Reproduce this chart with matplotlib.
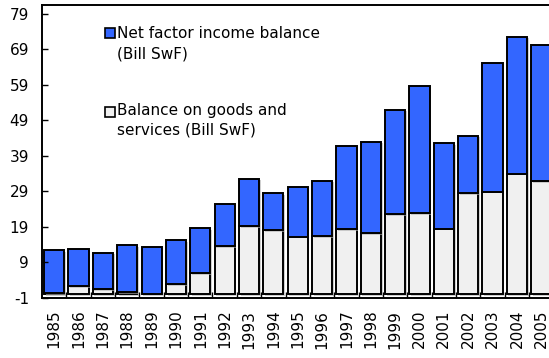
import matplotlib
matplotlib.use("Agg")
import matplotlib.pyplot as plt
import matplotlib.patheffects as pe
from matplotlib.patches import Rectangle
import numpy as np

plt.rcParams['font.family'] = ['DejaVu Sans']
plt.rcParams['axes.unicode_minus'] = False

years = [str(y) for y in range(1985, 2006)]
# Balance on goods and services (Bill SwF)
goods = [0.4, 2.3, 1.5, 0.6, 0.2, 2.8, 6.0, 13.5, 19.2, 18.0, 16.2,
         16.4, 18.3, 17.2, 22.5, 22.9, 18.5, 28.5, 28.9, 34.0, 31.9]
# Net factor income balance (Bill SwF)
net_factor = [12.0, 10.4, 10.2, 13.2, 13.1, 12.4, 12.7, 12.0, 13.4, 10.4, 13.9,
              15.6, 23.6, 25.8, 29.5, 35.9, 24.0, 16.2, 36.3, 38.6, 38.4]
yticks = list(range(-1, 80, 10))

blue = '#3366ff'
grey = '#f0f0f0'

fig = plt.figure(figsize=(5.49, 3.58), dpi=100)
ax = fig.add_axes([0.077, 0.168, 0.9306, 0.818])

x = np.arange(len(years))
shadow = [pe.SimplePatchShadow(offset=(1.2, -1.2), shadow_rgbFace='#b0b0b0', alpha=0.6), pe.Normal()]
b1 = ax.bar(x, goods, width=0.83, color=grey, edgecolor='black', linewidth=1.4)
b2 = ax.bar(x, net_factor, bottom=goods, width=0.83, color=blue, edgecolor='black', linewidth=1.4)
for r in list(b1) + list(b2):
    r.set_path_effects(shadow)

ax.set_xlim(-0.49, len(years) - 0.51)
ax.set_ylim(-1, 81.5)
ax.set_yticks(yticks)
ax.set_xticks(x)
ax.set_xticklabels(years, rotation=90, fontsize=11)
ax.set_xticks(x[:-1] + 0.5, minor=True)
ax.tick_params(axis='x', which='major', length=0, pad=8.5)
ax.tick_params(axis='x', which='minor', direction='in', length=4, width=1)
ax.tick_params(axis='y', direction='in', length=4, width=1, pad=9.5, labelsize=11)
for s in ['left', 'top', 'bottom']:
    ax.spines[s].set_linewidth(1.4)
ax.spines['right'].set_visible(False)

# legend drawn by hand to match the two-line layout
for yb, col in [(0.887, blue), (0.618, grey)]:
    ax.add_patch(Rectangle((0.1227, yb), 0.0196, 0.034, transform=ax.transAxes,
                           facecolor=col, edgecolor='black', linewidth=1.2, clip_on=False))
legend_lines = [("Net factor income balance", 0.8874), ("(Bill SwF)", 0.817),
                ("Balance on goods and", 0.626), ("services (Bill SwF)", 0.557)]
for txt, yb in legend_lines:
    ax.text(0.1456, yb, txt, transform=ax.transAxes, fontsize=11, va='baseline', ha='left')

fig.savefig("out.png", dpi=100)
